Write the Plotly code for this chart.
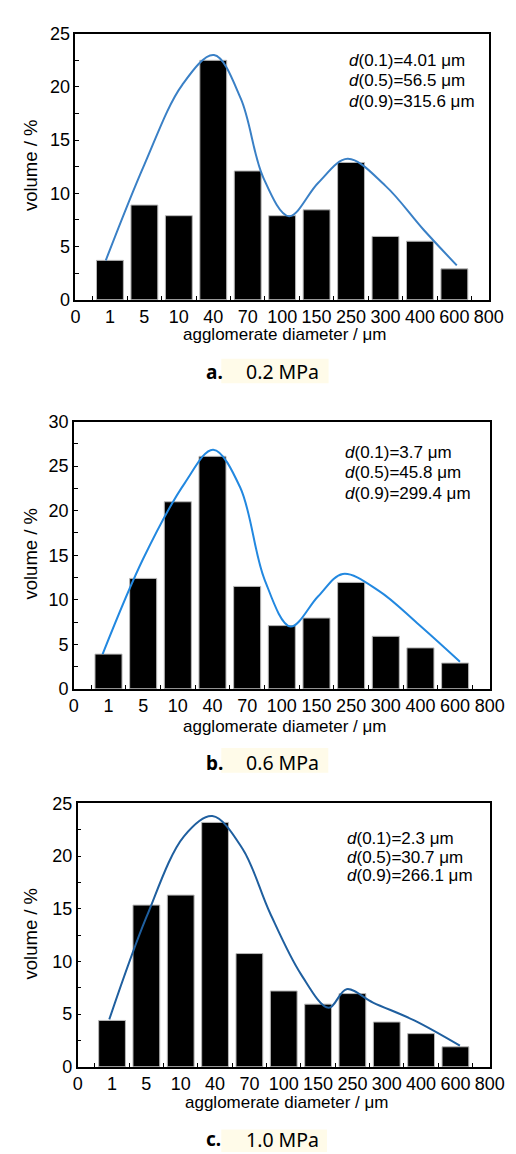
import plotly.graph_objects as go

# ---------------- data ----------------
tick_labels = ["0", "1", "5", "10", "40", "70", "100", "150", "250", "300", "400", "600", "800"]
categories = ["1", "5", "10", "40", "70", "100", "150", "250", "300", "400", "600"]

vol_a = [3.7, 8.9, 7.9, 22.5, 12.1, 7.9, 8.45, 12.9, 5.95, 5.5, 2.9]
vol_b = [3.9, 12.4, 21.0, 26.1, 11.5, 7.1, 7.95, 11.95, 5.9, 4.6, 2.9]
vol_c = [4.4, 15.35, 16.3, 23.2, 10.75, 7.2, 5.95, 6.95, 4.25, 3.15, 1.9]

# fitted curves (x in category-position units)
fit_a_x = [0.88, 2.0, 3.1, 4.02, 4.8, 5.45, 6.2, 7.05, 7.9, 9.0, 10.1, 11.07]
fit_a_y = [3.7, 12.7, 20.2, 23.0, 18.9, 11.5, 7.85, 11.0, 13.24, 10.7, 6.6, 3.23]
fit_b_x = [0.83, 2.0, 3.2, 4.02, 4.8, 5.5, 6.25, 7.05, 7.76, 8.8, 9.9, 11.14]
fit_b_y = [3.9, 14.6, 23.1, 26.85, 22.6, 12.3, 7.0, 10.4, 12.9, 11.0, 7.4, 3.05]
fit_c_x = [0.92, 2.0, 3.1, 3.92, 4.8, 5.6, 6.5, 7.31, 7.83, 8.6, 9.8, 11.13]
fit_c_y = [4.5, 14.2, 21.9, 23.8, 20.7, 14.6, 8.8, 5.6, 7.37, 6.1, 4.4, 2.0]

stats_a = ["4.01", "56.5", "315.6"]
stats_b = ["3.7", "45.8", "299.4"]
stats_c = ["2.3", "30.7", "266.1"]
quantiles = ["0.1", "0.5", "0.9"]
pressures = ["0.2 MPa", "0.6 MPa", "1.0 MPa"]
letters = ["a.", "b.", "c."]
y_max = [25, 30, 25]

# ---------------- layout helpers ----------------
W, H = 516, 1154
FONT = "Liberation Sans, Arial, sans-serif"


def px_x(p):
    return p / W


def px_y(p):
    return 1 - p / H


panels = [
    dict(l=65, r=495, t=16, b=286.7, vol=vol_a, fx=fit_a_x, fy=fit_a_y, col="#3a80c6",
         stats=stats_a, st_x=347, st_y=[43.5, 64, 84.5], xt_y=321.7,
         cap_box=(216.7, 346.7, 328.3, 371.7), cap_y=360),
    dict(l=63.3, r=496, t=410.7, b=682.7, vol=vol_b, fx=fit_b_x, fy=fit_b_y, col="#2288e0",
         stats=stats_b, st_x=343.3, st_y=[442, 463, 484], xt_y=720.8,
         cap_box=(216.7, 743, 328, 768), cap_y=758),
    dict(l=67.3, r=496, t=799.3, b=1067.3, vol=vol_c, fx=fit_c_x, fy=fit_c_y, col="#1f5f9f",
         stats=stats_c, st_x=345, st_y=[835, 854, 873], xt_y=1103.3,
         cap_box=(216.7, 1131, 326.7, 1154), cap_y=1141),
]

fig = go.Figure()
positions = list(range(1, len(categories) + 1))
annotations = []
shapes = []

for i, pn in enumerate(panels):
    k = "" if i == 0 else str(i + 1)
    xa, ya = "x" + k, "y" + k
    fig.add_trace(go.Bar(
        x=positions, y=pn["vol"], width=0.78,
        marker=dict(color="black", line=dict(color="#b8b8b8", width=1)),
        xaxis=xa, yaxis=ya, showlegend=False,
        customdata=categories,
        hovertemplate="%{customdata} µm: %{y}%<extra></extra>",
    ))
    fig.add_trace(go.Scatter(
        x=pn["fx"], y=pn["fy"], mode="lines",
        line=dict(color=pn["col"], width=2, shape="spline", smoothing=1.0),
        xaxis=xa, yaxis=ya, showlegend=False, hoverinfo="skip",
    ))

    axis_common = dict(showline=True, mirror=True, linecolor="black", linewidth=1.5,
                       showgrid=False, zeroline=False,
                       tickfont=dict(family=FONT, size=18, color="black"))
    fig.update_layout(**{
        "xaxis" + k: dict(
            domain=[px_x(pn["l"]), px_x(pn["r"])],
            anchor=ya, range=[0, 12],
            tickmode="array", tickvals=list(range(13)), ticktext=tick_labels,
            ticks="",
            minor=dict(tickmode="array", tickvals=[p + 0.5 for p in range(12)],
                       ticks="inside", ticklen=4, tickcolor="black", tickwidth=1),
            **axis_common,
        ),
        "yaxis" + k: dict(
            domain=[px_y(pn["b"]), px_y(pn["t"])],
            anchor=xa, range=[0, y_max[i]],
            tickmode="linear", tick0=0, dtick=5,
            ticks="inside", ticklen=4, tickcolor="black", tickwidth=1,
            minor=dict(tickmode="linear", tick0=0, dtick=2.5, ticks="inside",
                       ticklen=4, tickcolor="black", tickwidth=1),
            **axis_common,
        ),
    })

    # statistics text
    for q, v, yy in zip(quantiles, pn["stats"], pn["st_y"]):
        annotations.append(dict(
            xref="paper", yref="paper", x=px_x(pn["st_x"]), y=px_y(yy),
            xanchor="left", yanchor="middle", showarrow=False,
            text=f"<i>d</i>({q})={v} μm",
            font=dict(family=FONT, size=17, color="black"),
        ))
    # axis titles
    annotations.append(dict(
        xref="paper", yref="paper", x=px_x((pn["l"] + pn["r"]) / 2 + 3), y=px_y(pn["xt_y"]),
        xanchor="center", yanchor="middle", showarrow=False,
        text="agglomerate diameter / μm",
        font=dict(family=FONT, size=17, color="black"),
    ))
    annotations.append(dict(
        xref="paper", yref="paper", x=px_x(18), y=px_y((pn["t"] + pn["b"]) / 2 - 2),
        xanchor="center", yanchor="middle", showarrow=False, textangle=-90,
        text="volume / %",
        font=dict(family=FONT, size=18.5, color="black"),
    ))
    # caption
    bx0, by0, bx1, by1 = pn["cap_box"]
    shapes.append(dict(type="rect", xref="paper", yref="paper",
                       x0=px_x(bx0), x1=px_x(bx1), y0=px_y(by1), y1=px_y(by0),
                       fillcolor="#fffbe9", line=dict(width=0), layer="below"))
    annotations.append(dict(
        xref="paper", yref="paper", x=px_x(199), y=px_y(pn["cap_y"]),
        xanchor="left", yanchor="middle", showarrow=False,
        text=f"<b>{letters[i]}</b>",
        font=dict(family="Noto Sans", size=19, color="black"),
    ))
    annotations.append(dict(
        xref="paper", yref="paper", x=px_x(240), y=px_y(pn["cap_y"]),
        xanchor="left", yanchor="middle", showarrow=False,
        text=pressures[i],
        font=dict(family="Noto Sans", size=19.5, color="black"),
    ))

fig.update_layout(
    width=W, height=H,
    margin=dict(l=0, r=0, t=0, b=0),
    paper_bgcolor="white", plot_bgcolor="white",
    annotations=annotations, shapes=shapes,
    bargap=0.2,
)

fig.write_html("out.html")
